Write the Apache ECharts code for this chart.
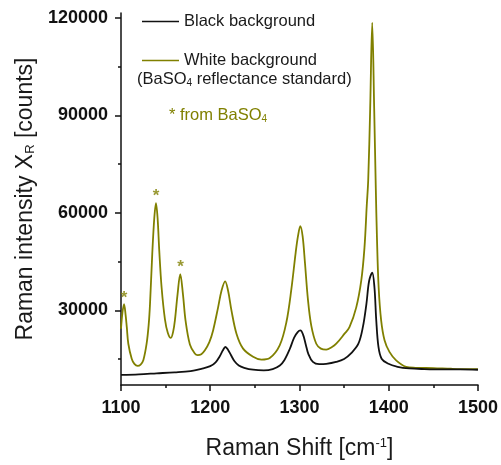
<!DOCTYPE html>
<html>
<head>
<meta charset="utf-8">
<script src="https://cdn.jsdelivr.net/npm/echarts@6/dist/echarts.min.js"></script>
<style>html,body{margin:0;padding:0;background:#fff}#c{width:501px;height:465px}</style>
</head>
<body>
<div id="c"></div>
<script>
// ---- data ----
var seriesNames = ['Black background', 'White background'];
var blackShift = [1100,1120,1140,1160,1178,1190,1200,1206,1211,1214,1217,1220,1223,1227,1232,1238,1248,1260,1270,1278,1283,1289,1294,1298,1301,1304,1307,1310,1315,1322,1330,1341,1350,1358,1366,1371,1375,1378,1381.5,1384,1386,1388.5,1392,1399,1410,1423,1440,1460,1480,1500];
var blackCounts = [10100,10300,10600,10900,11300,12000,12800,14000,16000,17600,18700,17800,16300,14400,13000,12300,11700,11500,11900,13000,14600,18000,21600,23300,23800,22500,19500,16500,14100,13400,13500,14100,15000,16800,19700,24800,32000,39000,41600,37000,27000,18700,15100,13600,12600,12100,11900,11800,11800,11700];
var whiteShift = [1100,1101.5,1103.4,1105,1106.5,1108.2,1112,1115,1118.7,1122,1125,1128.7,1131,1132.5,1135,1137.3,1139.2,1141,1142.9,1145.5,1149.2,1152.5,1155.9,1158.5,1160.4,1163.4,1166.4,1169.4,1172.3,1177.2,1182.7,1186,1190,1194,1199,1203.2,1208.8,1212.6,1216.7,1220,1223.8,1229.4,1236.8,1248,1257.4,1266.7,1277.8,1285.3,1290.9,1295.7,1298.3,1300.9,1303.5,1306.1,1309.4,1313.2,1318.8,1324,1330,1336,1341.2,1350.5,1356,1363.6,1369.2,1372.8,1375.4,1377,1379.2,1381.5,1383.7,1385.5,1386.8,1388.7,1391.5,1395.3,1400.8,1408.3,1419.5,1430,1450,1470,1490,1500];
var whiteCounts = [24300,29000,31900,29000,24800,19700,15100,13500,12900,13300,14600,19700,25500,31900,47200,58400,63000,58400,48200,37000,27300,23000,21500,23500,26900,35000,41100,35000,26900,19500,16700,16200,16500,17700,20200,23800,30900,36000,38900,36000,29900,22800,18200,15700,14800,15300,19200,26300,36500,47700,52800,55900,52800,44700,33500,25300,19700,18200,17900,18600,19700,22800,24800,30900,39100,49200,62400,70000,92000,118500,92000,67600,52300,37000,26900,20800,17200,14600,12600,12300,12200,12000,11900,11900];
var starShift = [1103.5, 1139.2, 1166.6];
var starCounts = [34900, 66200, 44400];
var yMajorTicks = [30000, 60000, 90000, 120000];
var yMinorTicks = [15000, 45000, 75000, 105000];
var xTicks = [1100, 1200, 1300, 1400, 1500];

var OLIVE = '#808000';
var FONT = 'Liberation Sans, Arial, sans-serif';
function pairs(xs, ys) { return xs.map(function (x, i) { return [x, ys[i]]; }); }
function plain(v) { return String(Math.round(v)); }

var chart = echarts.init(document.getElementById('c'), null, {renderer: 'canvas'});
var axisFont = {fontFamily: FONT, fontWeight: 'bold', fontSize: 18, color: '#111', formatter: plain};
chart.setOption({
  animation: false,
  backgroundColor: '#fff',
  grid: {left: 121, right: 22, top: 13, bottom: 77, containLabel: false},
  legend: {
    data: seriesNames,
    orient: 'vertical',
    left: 137, top: 8,
    icon: 'rect',
    itemWidth: 37, itemHeight: 1.5, itemGap: 22,
    textStyle: {fontFamily: FONT, fontSize: 16.5, color: '#1a1a1a'}
  },
  xAxis: {
    type: 'value', min: 1100, max: 1500, interval: 100,
    name: 'Raman Shift [cm{sup|-1}]', nameLocation: 'middle', nameGap: 52,
    nameTextStyle: {fontFamily: FONT, fontSize: 23, color: '#1a1a1a',
      rich: {sup: {fontSize: 13, verticalAlign: 'top', color: '#1a1a1a', fontFamily: FONT}}},
    axisLine: {show: true, onZero: false, lineStyle: {color: '#111', width: 1.5}},
    axisTick: {show: true, length: 6, lineStyle: {color: '#111', width: 1.5}},
    minorTick: {show: true, splitNumber: 2, length: 3, lineStyle: {color: '#111', width: 1.5}},
    axisLabel: Object.assign({margin: 14, customValues: xTicks}, axisFont),
    splitLine: {show: false}
  },
  yAxis: [{
    type: 'value', min: 7000, max: 121500,
    name: 'Raman intensity X{sub|R} [counts]', nameLocation: 'middle', nameGap: 81, nameRotate: 90,
    nameTextStyle: {fontFamily: FONT, fontSize: 23, color: '#1a1a1a',
      rich: {sub: {fontSize: 13, verticalAlign: 'bottom', color: '#1a1a1a', fontFamily: FONT}}},
    axisLine: {show: true, onZero: false, lineStyle: {color: '#111', width: 1.5}},
    axisTick: {show: true, length: 6, customValues: yMajorTicks, lineStyle: {color: '#111', width: 1.5}},
    axisLabel: Object.assign({margin: 13, customValues: yMajorTicks}, axisFont),
    splitLine: {show: false}
  }, {
    type: 'value', min: 7000, max: 121500, position: 'left',
    axisLine: {show: false},
    axisTick: {show: true, length: 3, customValues: yMinorTicks, lineStyle: {color: '#111', width: 1.5}},
    axisLabel: {show: false},
    splitLine: {show: false}
  }],
  series: [{
    name: seriesNames[0], type: 'line', data: pairs(blackShift, blackCounts),
    symbol: 'none', smooth: 0.35, color: '#111',
    lineStyle: {color: '#111', width: 1.8}, z: 3
  }, {
    name: seriesNames[1], type: 'line', data: pairs(whiteShift, whiteCounts),
    symbol: 'none', smooth: 0.35, color: OLIVE,
    lineStyle: {color: OLIVE, width: 1.8}, z: 2
  }, {
    name: 'stars', type: 'scatter', data: pairs(starShift, starCounts),
    symbolSize: 0, silent: true,
    label: {show: true, position: 'inside', formatter: '*', color: OLIVE, fontSize: 17, fontWeight: 'bold',
      fontFamily: FONT, offset: [0, 4]}
  }],
  graphic: [{
    type: 'text', left: 137, top: 71,
    style: {text: '(BaSO{sub|4} reflectance standard)', fontFamily: FONT, fontSize: 16.5, fill: '#1a1a1a',
      rich: {sub: {fontSize: 10, verticalAlign: 'bottom', fill: '#1a1a1a', fontFamily: FONT}}}
  }, {
    type: 'text', left: 169, top: 107,
    style: {text: '* from BaSO{sub|4}', fontFamily: FONT, fontSize: 16.5, fill: OLIVE,
      rich: {sub: {fontSize: 10, verticalAlign: 'bottom', fill: OLIVE, fontFamily: FONT}}}
  }]
});
</script>
</body>
</html>
